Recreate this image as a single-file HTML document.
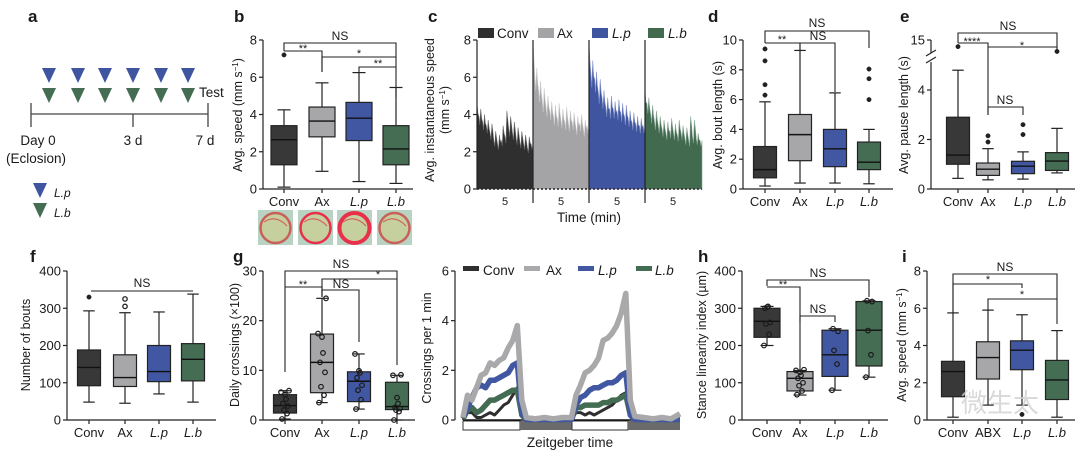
<!DOCTYPE html>
<html><head><meta charset="utf-8">
<style>
html,body{margin:0;padding:0;background:#fff;}
svg{display:block;font-family:"Liberation Sans","Noto Sans CJK SC",sans-serif;}
</style></head>
<body>
<svg id="fig" width="1080" height="456" viewBox="0 0 1080 456" xmlns="http://www.w3.org/2000/svg">
<rect x="0" y="0" width="1080" height="456" fill="#fff"/>
</svg>
<script>
// ---------- DATA ----------
const cats = ['Conv','Ax','L.p','L.b'];
const catsI = ['Conv','ABX','L.p','L.b'];
const colors = ['#383838','#a7a7a9','#4157a2','#446d53'];
// panel b
const bLow=[0.1,0.95,0.4,0.3], bQ1=[1.3,2.8,2.6,1.3], bMed=[2.65,3.65,3.8,2.15], bQ3=[3.4,4.4,4.65,3.4], bHigh=[4.25,5.7,6.25,5.45];
const bOut=[[7.2],[],[],[]];
const bTicks=[0,2,4,6,8];
// panel c traces
const cConv=[4.6,3.9,4.3,3.6,4.0,3.4,3.7,3.0,3.5,2.6,3.1,2.4,2.9,2.6,3.4,2.8,4.2,3.2,3.9,3.0,3.6,2.7,3.3,2.5,3.1,2.4,2.9,2.2,2.8,2.4];
const cAx=[7.9,6.0,6.5,5.3,5.8,4.7,5.4,4.4,5.0,4.2,4.7,3.9,4.5,3.8,4.6,3.7,4.3,3.6,4.4,3.5,4.2,3.6,4.1,3.3,3.9,3.5,4.0,3.2,3.7,3.4];
const cLp=[7.8,6.2,6.9,5.9,6.3,5.2,5.9,4.9,5.3,4.4,4.9,4.3,5.0,4.3,4.7,4.2,4.8,4.1,4.6,3.9,4.5,3.8,4.2,3.6,4.1,3.5,3.9,3.4,3.8,3.4];
const cLb=[5.3,4.6,4.9,4.0,4.5,3.6,4.2,3.4,3.9,3.2,3.7,3.0,3.6,3.1,3.8,3.0,3.5,2.9,3.7,3.0,3.4,2.7,3.3,2.6,3.9,2.8,3.7,2.7,3.0,2.6];
const cTicks=[0,2,4,6,8];
// panel d
const dLow=[0.2,0.4,0.4,0.35], dQ1=[0.75,1.9,1.5,1.3], dMed=[1.3,3.65,2.7,1.8], dQ3=[2.85,5.0,4.0,3.15], dHigh=[5.85,9.3,6.45,4.0];
const dOut=[[6.3,7.0,8.6,9.4],[],[],[6.0,7.4,8.05]];
const dTicks=[0,2,4,6,8,10];
// panel e
const eLow=[0.43,0.37,0.4,0.65], eQ1=[1.0,0.55,0.62,0.75], eMed=[1.37,0.8,0.92,1.13], eQ3=[2.9,1.05,1.12,1.47], eHigh=[4.8,1.63,1.5,2.45];
const eOut=[[13.5],[1.9,2.15],[2.2,2.6],[12.4]];
const eTicks=[0,2,4,15];
// panel f
const fLow=[48,45,70,48], fQ1=[92,90,103,105], fMed=[141,114,130,163], fQ3=[188,175,200,205], fHigh=[293,288,290,338];
const fOut=[[330],[305,325],[],[]];
const fTicks=[0,100,200,300,400];
// panel g
const gLow=[0.2,3.5,2.2,0], gQ1=[1.4,5.5,3.7,2.1], gMed=[2.9,11.6,7.8,2.7], gQ3=[5.1,17.3,9.7,7.6], gHigh=[5.9,24.5,13.3,9.0];
const gPts=[[0.2,1.3,2.0,2.8,3.3,4.2,5.1,5.6,5.9],[3.5,5.0,6.7,9.6,11.6,13.5,16.7,17.4,24.5],[2.2,4.1,6.0,7.0,8.5,9.5,9.9,13.3],[0,1.7,2.0,2.3,2.5,3.3,4.5,9.0,9.1]];
const gTicks=[0,10,20,30];
// crossings panel (hourly, hours 0..48)
const zHours=[0,1,2,3,4,5,6,7,8,9,10,11,12,13,14,16,18,20,22,24,25,26,27,28,29,30,31,32,33,34,35,36,37,38,40,42,44,46,48];
const zAx =[0.1,1.0,0.8,1.3,1.8,1.9,2.3,2.2,2.4,2.5,2.9,3.2,3.8,0.8,0.1,0.05,0.1,0.05,0.1,0.1,1.0,1.4,1.9,2.0,2.2,2.5,3.2,3.3,3.5,3.8,4.3,5.1,0.8,0.15,0.1,0.05,0.1,0.05,0.25];
const zLp =[0.1,0.5,0.9,1.3,1.4,1.3,1.6,1.6,1.7,1.8,1.9,2.2,2.3,0.3,0.02,0.02,0.02,0.02,0.02,0.02,0.6,0.9,1.0,1.2,1.3,1.3,1.4,1.5,1.5,1.6,1.8,1.9,0.2,0.02,0.02,0.02,0.02,0.02,0.02];
const zLb =[0.05,0.4,0.5,0.3,0.4,0.6,0.8,0.8,0.9,1.0,1.1,1.2,1.2,0.2,0.02,0.02,0.02,0.02,0.02,0.02,0.5,0.5,0.6,0.6,0.6,0.6,0.7,0.7,0.8,0.8,0.9,1.0,0.2,0.02,0.02,0.02,0.02,0.02,0.02];
const zConv=[0.0,0.3,0.3,0.1,0.1,0.2,0.3,0.2,0.4,0.6,0.7,1.0,1.3,0.2,0.0,0.0,0.0,0.0,0.0,0.0,0.3,0.3,0.2,0.3,0.2,0.3,0.4,0.5,0.6,0.8,1.0,1.1,0.2,0.0,0.0,0.0,0.0,0.0,0.0];
const zTicks=[0,2,4,6];
// panel h
const hLow=[200,67,80,115], hQ1=[222,78,117,145], hMed=[265,112,175,241], hQ3=[300,130,241,318], hHigh=[305,133,245,320];
const hPts=[[200,230,258,262,300,305,303],[68,78,92,100,112,120,128,133,135],[80,150,187,238,245],[115,175,240,318,320]];
const hTicks=[0,100,200,300,400];
// panel i
const iLow=[0.15,0.8,0.8,0.15], iQ1=[1.25,2.2,2.7,1.1], iMed=[2.6,3.35,3.75,2.15], iQ3=[3.15,4.2,4.25,3.2], iHigh=[5.75,5.9,5.65,4.8];
const iOut=[[],[],[0.3],[]];
const iTicks=[0,2,4,6,8];

// ---------- HELPERS ----------
const NS='http://www.w3.org/2000/svg';
const svg=document.getElementById('fig');
function mk(tag,attrs,parent){const e=document.createElementNS(NS,tag);for(const k in attrs)e.setAttribute(k,attrs[k]);(parent||svg).appendChild(e);return e;}
function txt(x,y,s,size,anchor,extra,name){
  const t=mk('text',Object.assign({x:x,y:y,'font-size':size,'text-anchor':anchor||'middle',fill:'#1a1a1a'},extra||{}));
  t.textContent=s;
  
  
  return t;
}
function panelLetter(x,y,s){
  const t=txt(x,y,s,17,'start',{'font-weight':'bold'},'panel-label-'+s);
  return t;
}
function yTitle(x,cy,s,sup){
  const t=mk('text',{x:0,y:0,'font-size':12.5,'text-anchor':'middle',fill:'#1a1a1a',transform:`translate(${x},${cy}) rotate(-90)`});
  
  
  t.appendChild(document.createTextNode(s));
  if(sup){const sp=mk('tspan',{'baseline-shift':'super','font-size':8},t);sp.textContent=sup;const r=mk('tspan',{},t);r.textContent=')';}
  return t;
}
function yAxis(x,sc,ticks,lbls){
  const ys=ticks.map(sc);
  const ln=mk('line',{x1:x,x2:x,y1:Math.min(...ys),y2:Math.max(...ys),stroke:'#222','stroke-width':1.2});
  
  
  ticks.forEach((v,i)=>{
    const tk=mk('line',{x1:x-4,x2:x,y1:sc(v),y2:sc(v),stroke:'#222','stroke-width':1.2});
    
    
    txt(x-6,sc(v)+4.5,lbls?lbls[i]:String(v),13,'end',{},'y-tick-label');
  });
}
function xAxis(x1,x2,y,centers,labels){
  const ln=mk('line',{x1:x1,x2:x2,y1:y,y2:y,stroke:'#222','stroke-width':1.2});
  
  
  centers.forEach((c,i)=>{
    const tk=mk('line',{x1:c,x2:c,y1:y,y2:y+4,stroke:'#222','stroke-width':1.2});
    
    
    const it=labels[i].startsWith('L.');
    txt(c,y+17,labels[i],13,'middle',it?{'font-style':'italic'}:{},'x-tick-label');
  });
}
function boxes(sc,centers,w,lo,q1,md,q3,hi,outs,openIdx,prefix){
  centers.forEach((c,i)=>{
    const g=mk('g',{});
    
    
    mk('line',{x1:c,x2:c,y1:sc(hi[i]),y2:sc(q3[i]),stroke:'#222','stroke-width':1.2},g);
    mk('line',{x1:c,x2:c,y1:sc(q1[i]),y2:sc(lo[i]),stroke:'#222','stroke-width':1.2},g);
    mk('line',{x1:c-w/4,x2:c+w/4,y1:sc(hi[i]),y2:sc(hi[i]),stroke:'#222','stroke-width':1.2},g);
    mk('line',{x1:c-w/4,x2:c+w/4,y1:sc(lo[i]),y2:sc(lo[i]),stroke:'#222','stroke-width':1.2},g);
    mk('rect',{x:c-w/2,y:sc(q3[i]),width:w,height:sc(q1[i])-sc(q3[i]),fill:colors[i],stroke:'#222','stroke-width':1.2},g);
    mk('line',{x1:c-w/2,x2:c+w/2,y1:sc(md[i]),y2:sc(md[i]),stroke:'#111','stroke-width':1.4},g);
    (outs?outs[i]:[]).forEach(v=>{
      const open=openIdx===i;
      const o=mk('circle',{cx:c,cy:sc(v),r:2.2,fill:open?'#fff':'#222',stroke:'#222','stroke-width':open?1.3:0.5});
      
      
    });
  });
}
const jit=[-3,2,-1,3,-2,1,0,-4,4];
function points(sc,centers,pts,prefix){
  centers.forEach((c,i)=>{
    pts[i].forEach((v,k)=>{
      const p=mk('circle',{cx:c+jit[k%jit.length],cy:sc(v),r:2.3,fill:'none',stroke:'#1a1a1a','stroke-width':1.2});
      
      
    });
  });
}
function bracket(x1,x2,y,d1,d2,label,lx,ly){
  const p=mk('path',{d:`M${x1},${d1} V${y} H${x2} V${d2}`,fill:'none',stroke:'#222','stroke-width':1.1});
  
  
  txt(lx!==undefined?lx:(x1+x2)/2,ly!==undefined?ly:y-3,label,label==='NS'?12:11,'middle',{},'significance-label');
}

// ---------- PANEL A ----------
panelLetter(28,22,'a');
[49,78,105,133,161,188].forEach(x=>{
  const t1=mk('polygon',{points:`${x-7},68 ${x+7},68 ${x},83`,fill:'#3f55a0'});
  
  
  const t2=mk('polygon',{points:`${x-7},88 ${x+7},88 ${x},103`,fill:'#446d53'});
  
  
});
{
  const tl=mk('path',{d:'M31,114 H208 M31,103 V127 M133,114 V127 M208,103 V127',stroke:'#444','stroke-width':1.3,fill:'none'});
  
  
}
txt(199,97,'Test',13.5,'start',{},'test-label');
txt(38,145,'Day 0',13.5,'middle',{},'day0-label');
txt(36,163,'(Eclosion)',13.5,'middle',{},'eclosion-label');
txt(133,145,'3 d',13.5,'middle',{},'day3-label');
txt(205,145,'7 d',13.5,'middle',{},'day7-label');
{
  const l1=mk('polygon',{points:'33,183 47,183 40,198',fill:'#3f55a0'});
  
  
  const l2=mk('polygon',{points:'33,203 47,203 40,218',fill:'#446d53'});
  
  
}
txt(54,197,'L.p',12,'start',{'font-style':'italic'},'legend-lp');
txt(54,217,'L.b',12,'start',{'font-style':'italic'},'legend-lb');

// ---------- PANEL B ----------
panelLetter(234,22,'b');
{
  const sc=v=>189-v*149/8, c=[284,322,359,396];
  yAxis(263,sc,bTicks);
  xAxis(263,413,189,c,cats);
  boxes(sc,c,26,bLow,bQ1,bMed,bQ3,bHigh,bOut,-1,'speed');
  yTitle(242,115,'Avg. speed (mm s','−1');
  bracket(284,396,43,51,97,'NS');
  bracket(284,322,51,51,72,'**',303,52);
  bracket(322,396,57,72,57,'*',359,57);
  bracket(359,396,67,72,67,'**',378,67);
  [258,298,337,377].forEach((x,i)=>{
    const g=mk('g',{});
    
    
    mk('rect',{x:x,y:210,width:35,height:35,fill:'#b9d3c2'},g);
    mk('ellipse',{cx:x+17.5,cy:228,rx:15,ry:15,fill:'#c6cf9e',stroke:i==1||i==2?'#e8304a':'#c9605a','stroke-width':i==2?4:2.5},g);
    mk('path',{d:`M${x+6},${222} Q${x+18},${214} ${x+29},${226}`,stroke:'#d25a5a','stroke-width':1,fill:'none'},g);
  });
}

// ---------- PANEL C ----------
panelLetter(428,22,'c');
{
  const sc=v=>189-v*149/8;
  const segs=[477,533,589,645,702];
  const series=[cConv,cAx,cLp,cLb];
  const segColors=['#2f2f2f','#a4a4a6','#3f55a0','#416a4f'];
  const fringe=['#6a6a6a','#c8c8ca','#8190c8','#8aa595'];
  series.forEach((arr,s)=>{
    const x0=segs[s], x1=segs[s+1], n=arr.length;
    let d=`M${x0},189`;
    arr.forEach((v,k)=>{const xa=x0+(x1-x0)*k/n, xb=x0+(x1-x0)*(k+1)/n; d+=` L${xa},${sc(v)} L${(xa+xb)/2},${sc(v*0.88)}`;});
    d+=` L${x1},${sc(arr[n-1])} L${x1},189 Z`;
    const p=mk('path',{d:d,fill:segColors[s],stroke:fringe[s],'stroke-width':0.6});
    
    
  });
  yAxis(477,sc,cTicks);
  const base=mk('line',{x1:477,x2:702,y1:189,y2:189,stroke:'#222','stroke-width':1.5,'stroke-dasharray':'2,2'});
  
  
  [533,589,645].forEach(x=>{
    const l=mk('line',{x1:x,x2:x,y1:40,y2:203,stroke:'#222','stroke-width':1.2});
    
    
  });
  [505,561,617,673].forEach(x=>txt(x,205,'5',11,'middle',{},'x-tick-label'));
  txt(589,222,'Time (min)',13.5,'middle',{},'x-axis-title');
  yTitle(434,110,'Avg. instantaneous speed');
  yTitle(449,110,'(mm s','−1');
  const lx=[478,538,592,648], tx=[497,557,612,668];
  cats.forEach((c,i)=>{
    const r=mk('rect',{x:lx[i],y:28,width:16,height:10,fill:segColors[i]});
    
    
    txt(tx[i],38,c,13.5,'start',c.startsWith('L.')?{'font-style':'italic'}:{},'legend-entry');
  });
}

// ---------- PANEL D ----------
panelLetter(708,22,'d');
{
  const sc=v=>189-v*14.9, c=[765,800,835,869];
  yAxis(743,sc,dTicks);
  xAxis(743,893,189,c,cats);
  boxes(sc,c,23,dLow,dQ1,dMed,dQ3,dHigh,dOut,-1,'bout');
  yTitle(722,115,'Avg. bout length (s)');
  bracket(765,869,31,43,48,'NS',817,27);
  bracket(765,800,43,43,51,'**',782,43);
  bracket(800,835,43,51,92,'NS',818,40);
}

// ---------- PANEL E ----------
panelLetter(900,22,'e');
{
  const sc=v=>v<=5?189-v*24.75:62-(v-10)*4.4, c=[958,988,1023,1057];
  yAxis(931,sc,eTicks);
  const brk=mk('rect',{x:928,y:53,width:7,height:9,fill:'#fff'});
  
  
  const sl=mk('path',{d:'M926,56 L936,50 M926,63 L936,57',stroke:'#222','stroke-width':1.2});
  
  
  xAxis(931,1075,189,c,cats);
  boxes(sc,c,23,eLow,eQ1,eMed,eQ3,eHigh,eOut,-1,'pause');
  yTitle(908,115,'Avg. pause length (s)');
  bracket(958,1057,33,43,47,'NS',1008,30);
  bracket(958,988,43,43,115,'****',972,45);
  bracket(988,1057,47,47,50,'*',1022,49);
  bracket(988,1023,107,115,115,'NS',1005,104);
}

// ---------- PANEL F ----------
panelLetter(30,262,'f');
{
  const sc=v=>420-v*149/400, c=[89,125,159,193];
  yAxis(67,sc,fTicks);
  xAxis(67,216,420,c,cats);
  boxes(sc,c,23,fLow,fQ1,fMed,fQ3,fHigh,fOut,1,'bouts');
  yTitle(30,345,'Number of bouts');
  const l=mk('line',{x1:91,x2:193,y1:291,y2:291,stroke:'#222','stroke-width':1.1});
  
  
  txt(142,287,'NS',12,'middle',{},'significance-label');
}

// ---------- PANEL G ----------
panelLetter(233,262,'g');
{
  const sc=v=>420-v*149/30, c=[285,322,359,397];
  yAxis(263,sc,gTicks);
  xAxis(263,415,420,c,cats);
  boxes(sc,c,23,gLow,gQ1,gMed,gQ3,gHigh,null,-1,'crossings');
  points(sc,c,gPts,'crossings');
  yTitle(239,345,'Daily crossings (×100)');
  bracket(285,397,271,372,365,'NS',341,268);
  bracket(285,322,287,287,297,'**',303,288);
  bracket(322,359,290,297,342,'NS',341,288);
  bracket(322,397,279,297,279,'*',378,278);
}

// ---------- CROSSINGS TIME SERIES ----------
{
  const sc=v=>420-v*149/6, xs=t=>463+t*217/48;
  yAxis(455,sc,zTicks);
  const bars=[[463,520,'#fff'],[520,572,'#6b6b6b'],[572,628,'#fff'],[628,680,'#6b6b6b']];
  bars.forEach(b=>{
    const r=mk('rect',{x:b[0],y:421,width:b[1]-b[0],height:9,fill:b[2],stroke:b[2]==='#fff'?'#333':'none','stroke-width':1});
    
    
  });
  const zSeries=[[zConv,'#2f2f2f',3,'conv'],[zLb,'#436c52',5.5,'lb'],[zLp,'#4157a2',5.5,'lp'],[zAx,'#a9a9ab',5.5,'ax']];
  const bl=mk('line',{x1:463,x2:680,y1:420,y2:420,stroke:'#111','stroke-width':1.5});
  
  
  zSeries.forEach(s=>{
    const d=s[0].map((v,k)=>(k?'L':'M')+xs(zHours[k]).toFixed(1)+','+sc(v).toFixed(1)).join(' ');
    const p=mk('path',{d:d,fill:'none',stroke:s[1],'stroke-width':s[2],'stroke-linejoin':'round'});
    
    
  });
  txt(570,447,'Zeitgeber time',13.5,'middle',{},'x-axis-title');
  yTitle(431,348,'Crossings per 1 min');
  const lx=[463,524,578,636], tx=[483,546,598,655], lc=['#2f2f2f','#a9a9ab','#4157a2','#436c52'];
  cats.forEach((c,i)=>{
    const r=mk('rect',{x:lx[i],y:266,width:16,height:5,fill:lc[i]});
    
    
    txt(tx[i],275,c,13.5,'start',c.startsWith('L.')?{'font-style':'italic'}:{},'legend-entry');
  });
}

// ---------- PANEL H ----------
panelLetter(698,262,'h');
{
  const sc=v=>420-v*149/400, c=[767,800,835,869];
  yAxis(742,sc,hTicks);
  xAxis(742,888,420,c,cats);
  boxes(sc,c,26,hLow,hQ1,hMed,hQ3,hHigh,null,-1,'linearity');
  points(sc,c,hPts,'linearity');
  yTitle(706,345,'Stance linearity index (µm)');
  bracket(767,869,280,286,297,'NS',818,277);
  bracket(767,800,287,287,370,'**',783,288);
  bracket(800,835,316,322,322,'NS',818,313);
}

// ---------- PANEL I ----------
panelLetter(902,262,'i');
{
  const sc=v=>420-v*149/8, c=[953,988,1022,1057];
  yAxis(927,sc,iTicks);
  xAxis(927,1075,420,c,catsI);
  boxes(sc,c,23,iLow,iQ1,iMed,iQ3,iHigh,iOut,-1,'abx-speed');
  yTitle(906,345,'Avg. speed (mm s','−1');
  bracket(953,1057,274,313,299,'NS',1005,271);
  bracket(953,1022,284,313,288,'*',988,283);
  bracket(988,1057,299,310,324,'*',1022,298);
  txt(1000,412,'微生太',26,'middle',{fill:'#cfcfcf','fill-opacity':0.8},'watermark');
}
</script>
</body></html>
